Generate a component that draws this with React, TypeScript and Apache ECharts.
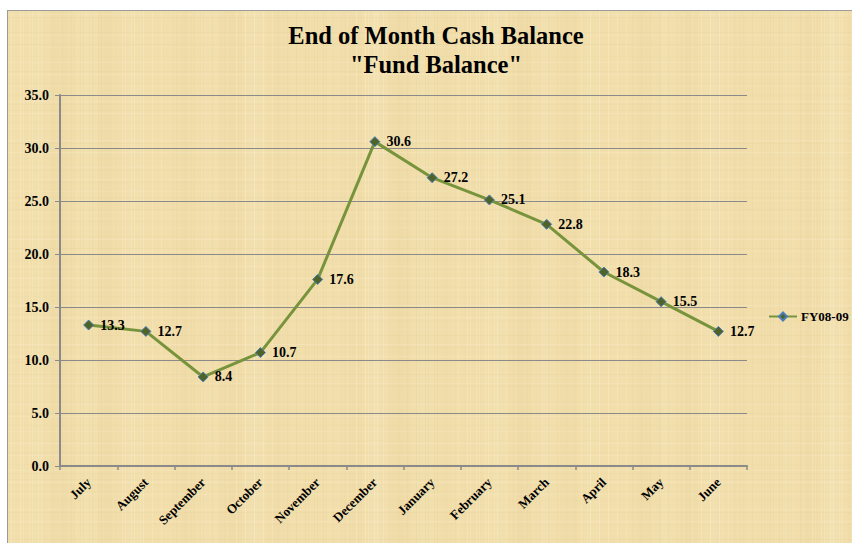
import React, { useEffect, useRef } from "react";
import * as echarts from "echarts";

const months = ["July", "August", "September", "October", "November", "December", "January", "February", "March", "April", "May", "June"];
const fy0809 = [13.3, 12.7, 8.4, 10.7, 17.6, 30.6, 27.2, 25.1, 22.8, 18.3, 15.5, 12.7];
const seriesName = "FY08-09";
const yMin = 0;
const yMax = 35;
const yStep = 5;

const W = 845;
const H = 533;
const FONT = "'Liberation Serif', 'Times New Roman', serif";

function makeTexture(w: number, h: number): string {
  const c = document.createElement("canvas");
  c.width = w;
  c.height = h;
  const g = c.getContext("2d");
  if (!g) return "";
  g.fillStyle = "#f1deab";
  g.fillRect(0, 0, w, h);
  // broad vertical bands
  for (let x = 0; x < w; x += 6) {
    const a = 0.05 * Math.sin(x * 0.021) * Math.sin(x * 0.13 + 1.3);
    if (a > 0) {
      g.fillStyle = `rgba(205,172,100,${a.toFixed(3)})`;
    } else {
      g.fillStyle = `rgba(255,246,220,${(-a * 2).toFixed(3)})`;
    }
    g.fillRect(x, 0, 6, h);
  }
  // fine vertical fibers
  for (let x = 0; x < w; x += 3) {
    const s = Math.sin(x * 1.73) * Math.sin(x * 0.31 + 0.7);
    if (s > 0.3) {
      g.fillStyle = `rgba(190,158,90,${(0.07 * s).toFixed(3)})`;
      g.fillRect(x, 0, 1, h);
    } else if (s < -0.4) {
      g.fillStyle = `rgba(255,248,225,${(-0.3 * s).toFixed(3)})`;
      g.fillRect(x, 0, 1, h);
    }
  }
  // horizontal fibers
  for (let y = 0; y < h; y += 3) {
    const s = Math.sin(y * 1.37 + 0.4) * Math.sin(y * 0.23);
    if (s > 0.3) {
      g.fillStyle = `rgba(190,158,90,${(0.06 * s).toFixed(3)})`;
      g.fillRect(0, y, w, 1);
    } else if (s < -0.4) {
      g.fillStyle = `rgba(255,248,225,${(-0.25 * s).toFixed(3)})`;
      g.fillRect(0, y, w, 1);
    }
  }
  return c.toDataURL();
}

export default function App() {
  const ref = useRef<HTMLDivElement>(null);

  useEffect(() => {
    if (!ref.current) return;
    const tex = makeTexture(W, H);
    if (tex) {
      ref.current.style.backgroundImage = `url(${tex})`;
    }
    const chart = echarts.init(ref.current, undefined, { renderer: "svg" });
    chart.setOption({
      animation: false,
      backgroundColor: "transparent",
      title: {
        text: 'End of Month Cash Balance\n"Fund Balance"',
        left: 428,
        top: 10,
        padding: 0,
        textAlign: "center",
        textStyle: {
          fontFamily: FONT,
          fontSize: 24.5,
          fontWeight: "bold",
          color: "#000",
          lineHeight: 29,
        },
      },
      legend: {
        left: 760,
        top: 299,
        padding: 0,
        orient: "vertical",
        itemWidth: 28,
        itemHeight: 10,
        itemGap: 4,
        data: [seriesName],
        textStyle: { fontFamily: FONT, fontSize: 13, fontWeight: "bold", color: "#000", padding: [0, 0, 0, -1] },
      },
      grid: { left: 52, top: 84, right: 105, bottom: 77, containLabel: false },
      xAxis: {
        type: "category",
        data: months,
        boundaryGap: true,
        axisLine: { lineStyle: { color: "#8a8a8a", width: 2 } },
        axisTick: { show: true, length: 4, alignWithLabel: false, lineStyle: { color: "#8a8a8a", width: 1.5 } },
        axisLabel: {
          rotate: 45,
          margin: 14,
          interval: 0,
          fontFamily: FONT,
          fontSize: 13,
          fontWeight: "bold",
          color: "#000",
        },
        splitLine: { show: false },
      },
      yAxis: {
        type: "value",
        min: yMin,
        max: yMax,
        interval: yStep,
        axisLine: { show: true, lineStyle: { color: "#8a8a8a", width: 2 } },
        axisTick: { show: true, length: 5, lineStyle: { color: "#8a8a8a" } },
        axisLabel: {
          formatter: (v: number) => v.toFixed(1),
          margin: 11,
          fontFamily: FONT,
          fontSize: 14,
          fontWeight: "bold",
          color: "#000",
        },
        splitLine: { show: true, lineStyle: { color: "#8a8a8a", width: 1 } },
      },
      series: [
        {
          name: seriesName,
          type: "line",
          data: fy0809,
          symbol: "diamond",
          symbolSize: 10,
          lineStyle: { color: "#77933c", width: 3 },
          itemStyle: { color: "#4f6228", borderColor: "#4a7ebb", borderWidth: 1 },
          label: {
            show: true,
            position: "right",
            distance: 6,
            formatter: (p: any) => Number(p.value).toFixed(1),
            fontFamily: FONT,
            fontSize: 14,
            fontWeight: "bold",
            color: "#000",
          },
          z: 3,
        },
      ],
    });
    return () => chart.dispose();
  }, []);

  return (
    <div
      ref={ref}
      style={{
        position: "absolute",
        left: 7,
        top: 10,
        width: W,
        height: H,
        boxSizing: "border-box",
        borderTop: "1px solid #9a9a9a",
        borderLeft: "1px solid #9a9a9a",
        backgroundColor: "#f1deab",
      }}
    />
  );
}
